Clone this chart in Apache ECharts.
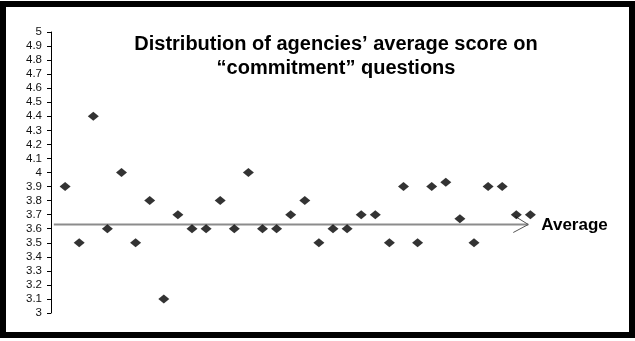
<!DOCTYPE html>
<html>
<head>
<meta charset="utf-8">
<script src="https://cdn.jsdelivr.net/npm/echarts@6/dist/echarts.min.js"></script>
<style>
  body { margin: 0; background: #fff; }
  #wrap { position: relative; width: 635px; height: 341px; }
  #chart { width: 635px; height: 341px; }
  #frame {
    position: absolute; left: 0; top: 1px; width: 635px; height: 337px;
    box-sizing: border-box; border: 6px solid #000; pointer-events: none;
  }
</style>
</head>
<body>
<div id="wrap">
  <div id="chart"></div>
  <div id="frame"></div>
</div>
<script>
// one point per agency, in the order they appear
const agencies = [1, 2, 3, 4, 5, 6, 7, 8, 9, 10, 11, 12, 13, 14, 15, 16, 17,
  18, 19, 20, 21, 22, 23, 24, 25, 26, 27, 28, 29, 30, 31, 32, 33, 34];
const scores = [3.9, 3.5, 4.4, 3.6, 4.0, 3.5, 3.8, 3.1, 3.7, 3.6, 3.6, 3.8,
  3.6, 4.0, 3.6, 3.6, 3.7, 3.8, 3.5, 3.6, 3.6, 3.7, 3.7, 3.5, 3.9, 3.5, 3.9,
  3.93, 3.67, 3.5, 3.9, 3.9, 3.7, 3.7];

// average line: value and how far it runs along the agency axis
const averageScore = 3.63;
const averageSpan = [0.2, 33.85];
const averageLabel = 'Average';

const titleLines = ['Distribution of agencies\u2019 average score on',
  '\u201ccommitment\u201d questions'];

var chart = echarts.init(document.getElementById('chart'));

var points = agencies.map(function (a, i) { return [a, scores[i]]; });

var option = {
  backgroundColor: '#fff',
  animation: false,
  title: {
    text: titleLines.join('\n'),
    left: 336,
    top: 32,
    padding: 0,
    textAlign: 'center',
    textStyle: {
      fontFamily: 'Liberation Sans, Arial, sans-serif',
      fontSize: 20,
      fontWeight: 'bold',
      color: '#000',
      lineHeight: 24
    }
  },
  grid: { left: 51, right: 20, top: 32, bottom: 28 },
  xAxis: {
    type: 'value',
    min: 0,
    max: 40,
    show: false
  },
  yAxis: {
    type: 'value',
    min: 3,
    max: 5,
    interval: 0.1,
    axisLine: { show: true, lineStyle: { color: '#000', width: 1 } },
    axisTick: { show: true, length: 4, lineStyle: { color: '#000' } },
    splitLine: { show: false },
    axisLabel: {
      margin: 9,
      color: '#111',
      fontSize: 11.5,
      fontFamily: 'Liberation Sans, Arial, sans-serif'
    }
  },
  series: [
    {
      type: 'custom',
      data: [[averageSpan[0], averageScore, averageSpan[1]]],
      silent: true,
      z: 1,
      renderItem: function (params, api) {
        var p0 = api.coord([api.value(0), api.value(1)]);
        var p1 = api.coord([api.value(2), api.value(1)]);
        return {
          type: 'group',
          children: [
            {
              type: 'line',
              shape: { x1: p0[0], y1: p0[1], x2: p1[0], y2: p1[1] },
              style: { stroke: '#8c8c8c', lineWidth: 2 }
            },
            {
              type: 'polyline',
              shape: { points: [[p1[0] - 13, p1[1] - 8], [p1[0], p1[1]], [p1[0] - 15, p1[1] + 8]] },
              style: { stroke: '#555', lineWidth: 1, fill: null }
            },
            {
              type: 'text',
              style: {
                x: p1[0] + 13,
                y: p1[1] + 1,
                text: averageLabel,
                fill: '#000',
                font: 'bold 17px "Liberation Sans", Arial, sans-serif',
                verticalAlign: 'middle'
              }
            }
          ]
        };
      }
    },
    {
      type: 'scatter',
      data: points,
      symbol: 'diamond',
      symbolSize: [11, 9],
      itemStyle: { color: '#000' },
      z: 3
    }
  ]
};

chart.setOption(option);
</script>
</body>
</html>
